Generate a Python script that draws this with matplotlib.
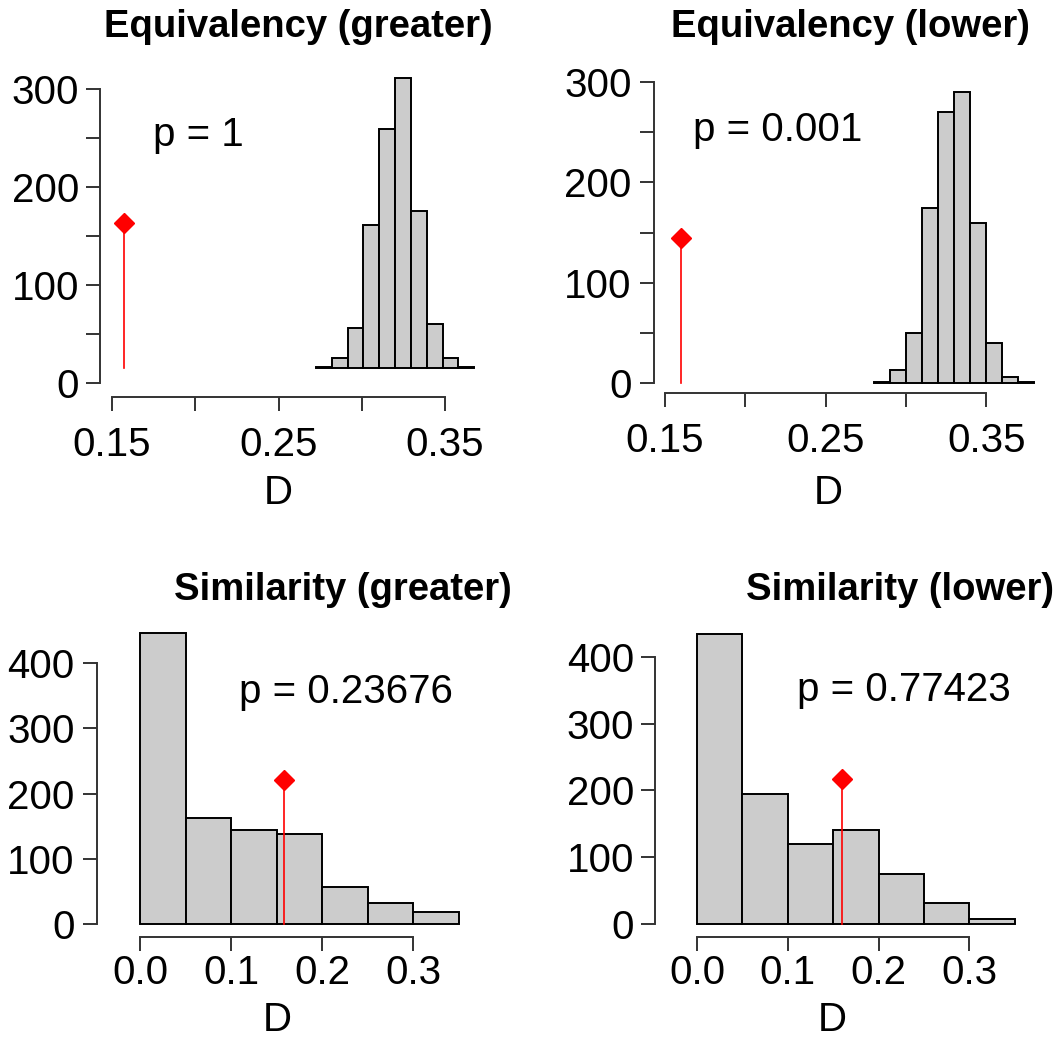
import numpy as np
import matplotlib
matplotlib.use("Agg")
import matplotlib.pyplot as plt

plt.rcParams['font.family'] = ['Liberation Sans', 'DejaVu Sans']

# valores
# Equivalency (greater)
eg_edges = [0.2725, 0.282, 0.2915, 0.301, 0.3105, 0.32, 0.3295, 0.339, 0.3485, 0.358, 0.3675]
eg_counts = [1, 11, 41, 146, 244, 296, 161, 45, 11, 1]
eg_base = 15
eg_obs = 0.1574
eg_obs_h = 163
eg_p = "p = 1"

# Equivalency (lower)
el_edges = [0.28, 0.29, 0.30, 0.31, 0.32, 0.33, 0.34, 0.35, 0.36, 0.37, 0.38]
el_counts = [1, 13, 50, 174, 270, 290, 159, 40, 6, 1]
el_obs = 0.160
el_obs_h = 145
el_p = "p = 0.001"

# Similarity (greater)
sg_edges = [0.0, 0.05, 0.10, 0.15, 0.20, 0.25, 0.30, 0.35]
sg_counts = [446, 162, 144, 138, 57, 32, 18]
sg_obs = 0.158
sg_obs_h = 220
sg_p = "p = 0.23676"

# Similarity (lower)
sl_edges = [0.0, 0.05, 0.10, 0.15, 0.20, 0.25, 0.30, 0.35]
sl_counts = [434, 195, 120, 141, 75, 31, 8]
sl_obs = 0.160
sl_obs_h = 217
sl_p = "p = 0.77423"

W, H = 1056, 1040
fig = plt.figure(figsize=(W / 100, H / 100), dpi=100)

FS = 29


def caja(left, right, top, bottom):
    return [left / W, 1 - bottom / H, (right - left) / W, (bottom - top) / H]


def panel(rect, edges, counts, obs, obs_h, ptxt, pxy, xlim, ylim,
          xticks, xlabels, yticks, ylabels, ybounds, xbounds, base=0,
          xpad=12, ypad=5):
    ax = fig.add_axes(rect)
    ax.bar(edges[:-1], counts, width=np.diff(edges), align='edge', bottom=base,
           color='#cccccc', edgecolor='black', linewidth=1.4)
    ax.plot([obs, obs], [base, obs_h], color='red', linewidth=1.2)
    ax.plot([obs], [obs_h], marker='D', markersize=10, color='red', linestyle='none')
    ax.text(pxy[0], pxy[1], ptxt, fontsize=FS, ha='center', va='center')
    ax.set_xlim(xlim)
    ax.set_ylim(ylim)
    ax.set_xticks(xticks)
    ax.set_xticklabels(xlabels)
    ax.set_yticks(yticks)
    ax.set_yticklabels(ylabels)
    for s in ['top', 'right']:
        ax.spines[s].set_visible(False)
    ax.spines['left'].set_bounds(*ybounds)
    ax.spines['bottom'].set_bounds(*xbounds)
    for s in ['left', 'bottom']:
        ax.spines[s].set_linewidth(1.4)
        ax.spines[s].set_color('#333333')
    ax.tick_params(axis='both', direction='out', length=10, width=1.4,
                   color='#333333', labelsize=FS)
    ax.tick_params(axis='x', pad=xpad)
    ax.tick_params(axis='y', pad=ypad)
    ax.patch.set_visible(False)
    return ax


eq_yticks = [0, 50, 100, 150, 200, 250, 300]
eq_ylabels = ['0', '', '100', '', '200', '', '300']
eq_xticks = [0.15, 0.20, 0.25, 0.30, 0.35]
eq_xlabels = ['0.15', '', '0.25', '', '0.35']
si_yticks = [0, 100, 200, 300, 400]
si_ylabels = ['0', '100', '200', '300', '400']
si_xticks = [0.0, 0.1, 0.2, 0.3]
si_xlabels = ['0.0', '0.1', '0.2', '0.3']

panel(caja(100, 496, 60, 397), eg_edges, eg_counts, eg_obs, eg_obs_h, eg_p,
      (0.2016, 253), (0.1428, 0.3806), (-14.3, 329.6),
      eq_xticks, eq_xlabels, eq_yticks, eq_ylabels, (0, 300), (0.15, 0.35),
      base=eg_base, xpad=11, ypad=5)
panel(caja(654, 1046, 60, 393), el_edges, el_counts, el_obs, el_obs_h, el_p,
      (0.2204, 252), (0.1432, 0.3872), (-10, 322),
      eq_xticks, eq_xlabels, eq_yticks, eq_ylabels, (0, 300), (0.15, 0.35),
      xpad=11, ypad=6)
panel(caja(97, 480, 600, 937), sg_edges, sg_counts, sg_obs, sg_obs_h, sg_p,
      (0.2264, 355), (-0.0473, 0.3736), (-19.9, 496.6),
      si_xticks, si_xlabels, si_yticks, si_ylabels, (0, 400), (0.0, 0.3),
      xpad=2, ypad=6)
panel(caja(655, 1040, 600, 937), sl_edges, sl_counts, sl_obs, sl_obs_h, sl_p,
      (0.228, 350), (-0.0463, 0.3778), (-19.5, 485),
      si_xticks, si_xlabels, si_yticks, si_ylabels, (0, 400), (0.0, 0.3),
      xpad=2, ypad=5)

# titulos y etiquetas
titulos = [("Equivalency (greater)", 298, 27), ("Equivalency (lower)", 850, 27),
           ("Similarity (greater)", 343, 590), ("Similarity (lower)", 900, 590)]
for t, x, y in titulos:
    fig.text(x / W, 1 - y / H, t, fontsize=27.5, fontweight='bold', ha='center', va='center')
for x, y in [(278, 493), (828, 493), (277, 1020), (832, 1020)]:
    fig.text(x / W, 1 - y / H, "D", fontsize=FS, ha='center', va='center')

plt.savefig("out.png", dpi=100)
